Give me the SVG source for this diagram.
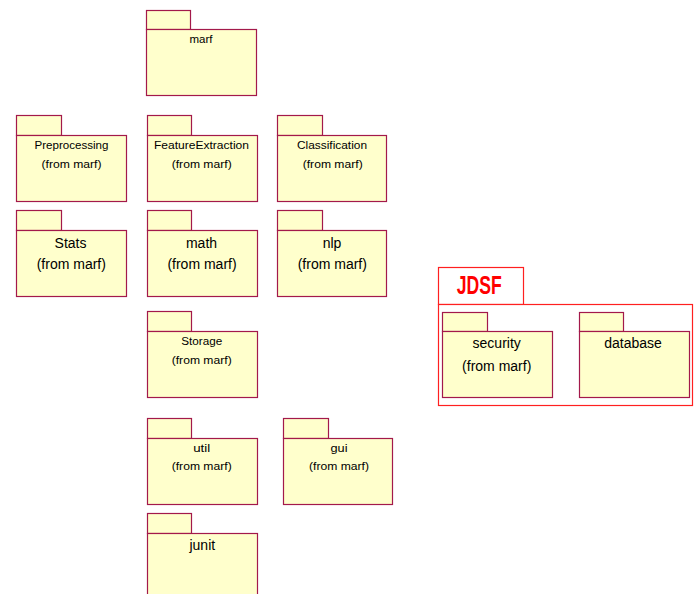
<svg xmlns="http://www.w3.org/2000/svg" width="699" height="594" viewBox="0 0 699 594">
<style>
.pk{fill:#FFFFCC;stroke:#A3194B;stroke-width:1.2}
.t{font-family:"Liberation Sans",Arial,sans-serif;fill:#000;text-anchor:middle}
.s{font-size:10px}
.b{font-size:14px}
</style>
<rect width="699" height="594" fill="#fff"/>
<g id="marf"><rect class="pk" x="146.5" y="10.5" width="44" height="19"/><rect class="pk" x="146.5" y="29.5" width="110" height="66"/><text class="t s" x="201" y="43" textLength="23" lengthAdjust="spacingAndGlyphs">marf</text></g>
<g id="Preprocessing"><rect class="pk" x="16.5" y="115.5" width="45" height="20"/><rect class="pk" x="16.5" y="135.5" width="110" height="66"/><text class="t s" x="71.5" y="149" textLength="74" lengthAdjust="spacingAndGlyphs">Preprocessing</text><text class="t s" x="71.5" y="167.5" textLength="60" lengthAdjust="spacingAndGlyphs">(from marf)</text></g>
<g id="FeatureExtraction"><rect class="pk" x="147.5" y="115.5" width="44" height="20"/><rect class="pk" x="147.5" y="135.5" width="110" height="66"/><text class="t s" x="201.5" y="149" textLength="95" lengthAdjust="spacingAndGlyphs">FeatureExtraction</text><text class="t s" x="201.7" y="167.5" textLength="60" lengthAdjust="spacingAndGlyphs">(from marf)</text></g>
<g id="Classification"><rect class="pk" x="277.5" y="115.5" width="45" height="20"/><rect class="pk" x="277.5" y="135.5" width="109" height="66"/><text class="t s" x="332" y="149" textLength="70" lengthAdjust="spacingAndGlyphs">Classification</text><text class="t s" x="332.7" y="167.5" textLength="60" lengthAdjust="spacingAndGlyphs">(from marf)</text></g>
<g id="Stats"><rect class="pk" x="16.5" y="210.5" width="45" height="20"/><rect class="pk" x="16.5" y="230.5" width="110" height="66"/><text class="t b" x="70.5" y="247.5">Stats</text><text class="t b" x="71.3" y="269">(from marf)</text></g>
<g id="math"><rect class="pk" x="147.5" y="210.5" width="44" height="20"/><rect class="pk" x="147.5" y="230.5" width="110" height="66"/><text class="t b" x="201.5" y="247.5">math</text><text class="t b" x="202" y="269">(from marf)</text></g>
<g id="nlp"><rect class="pk" x="277.5" y="210.5" width="45" height="20"/><rect class="pk" x="277.5" y="230.5" width="109" height="66"/><text class="t b" x="332" y="247.5">nlp</text><text class="t b" x="332.3" y="269">(from marf)</text></g>
<g id="Storage"><rect class="pk" x="147.5" y="311.5" width="44" height="20"/><rect class="pk" x="147.5" y="331.5" width="110" height="66"/><text class="t s" x="201.7" y="345" textLength="41" lengthAdjust="spacingAndGlyphs">Storage</text><text class="t s" x="201.7" y="363.5" textLength="60" lengthAdjust="spacingAndGlyphs">(from marf)</text></g>
<g id="util"><rect class="pk" x="147.5" y="418.5" width="44" height="20"/><rect class="pk" x="147.5" y="438.5" width="110" height="66"/><text class="t s" x="201.7" y="451.5" textLength="17" lengthAdjust="spacingAndGlyphs">util</text><text class="t s" x="201.7" y="470" textLength="60" lengthAdjust="spacingAndGlyphs">(from marf)</text></g>
<g id="gui"><rect class="pk" x="283.5" y="418.5" width="45" height="20"/><rect class="pk" x="283.5" y="438.5" width="109" height="66"/><text class="t s" x="339" y="451.5" textLength="17" lengthAdjust="spacingAndGlyphs">gui</text><text class="t s" x="339" y="470" textLength="60" lengthAdjust="spacingAndGlyphs">(from marf)</text></g>
<g id="junit"><rect class="pk" x="147.5" y="513.5" width="44" height="20"/><rect class="pk" x="147.5" y="533.5" width="110" height="70"/><text class="t b" x="202.3" y="550">junit</text></g>
<g id="JDSF">
<rect x="438.5" y="267.5" width="85" height="37" fill="#fff" stroke="#FF2020" stroke-width="1.2"/>
<rect x="438.5" y="304.5" width="254" height="101" fill="#fff" stroke="#FF2020" stroke-width="1.2"/>
<text x="479.2" y="294" font-family="'Liberation Sans',Arial,sans-serif" font-weight="bold" font-size="26" fill="#FF0000" text-anchor="middle" textLength="45" lengthAdjust="spacingAndGlyphs">JDSF</text>
<g id="security"><rect class="pk" x="442.5" y="312.5" width="45" height="19"/><rect class="pk" x="442.5" y="331.5" width="110" height="66"/><text class="t b" x="496.7" y="348.3">security</text><text class="t b" x="496.7" y="371">(from marf)</text></g>
<g id="database"><rect class="pk" x="579.5" y="312.5" width="44" height="19"/><rect class="pk" x="579.5" y="331.5" width="110" height="66"/><text class="t b" x="633" y="348.3">database</text></g>
</g>
<g id="connectors"/>
</svg>
